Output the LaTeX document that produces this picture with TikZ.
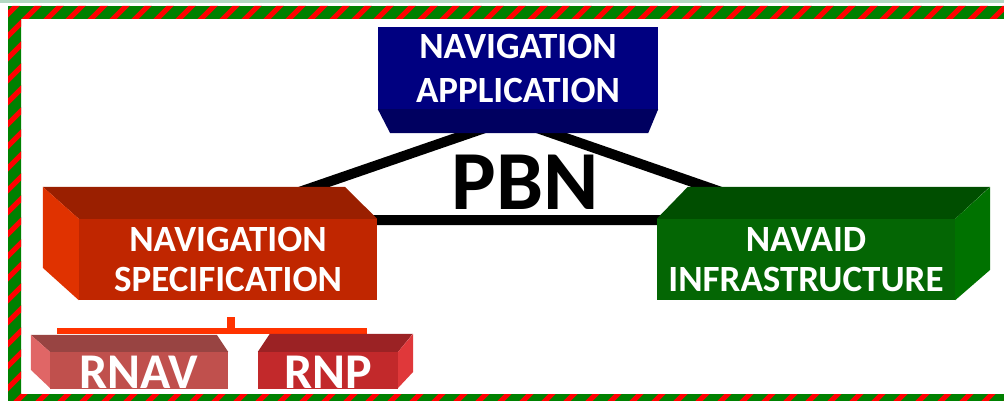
\documentclass[tikz,border=0pt]{standalone}
\usepackage{fontspec}
\setmainfont{Carlito}
\usepackage{tikz}
\definecolor{appblue}{RGB}{0, 0, 128}
\definecolor{appdark}{RGB}{0, 0, 96}
\definecolor{specfront}{RGB}{192, 38, 0}
\definecolor{spectop}{RGB}{154, 31, 0}
\definecolor{specside}{RGB}{224, 50, 0}
\definecolor{navfront}{RGB}{4, 102, 4}
\definecolor{navtop}{RGB}{0, 78, 0}
\definecolor{navside}{RGB}{0, 114, 0}
\definecolor{rnavfront}{RGB}{192, 80, 77}
\definecolor{rnavtop}{RGB}{152, 68, 66}
\definecolor{rnavside}{RGB}{224, 102, 102}
\definecolor{rnpfront}{RGB}{194, 41, 43}
\definecolor{rnptop}{RGB}{155, 34, 36}
\definecolor{rnpside}{RGB}{224, 56, 58}
\definecolor{bracketred}{RGB}{255, 51, 0}
\definecolor{framegreen}{RGB}{0, 128, 0}
\definecolor{framered}{RGB}{255, 0, 0}
\definecolor{stripgreen}{RGB}{178, 216, 194}

\begin{document}
\begin{tikzpicture}[
    x=1pt, y=-1pt,
    face/.style={rectangle, inner sep=0pt, align=center, text=white, font=\bfseries\fontsize{37}{40}\selectfont},
    appface/.style={face, fill=appblue, minimum width=280pt, minimum height=82pt, font=\bfseries\fontsize{37}{44}\selectfont},
    specface/.style={face, fill=specfront, minimum width=298pt, minimum height=81pt},
    navface/.style={face, fill=navfront, minimum width=298pt, minimum height=81pt},
    smallface/.style={face, minimum height=40pt, font=\bfseries\fontsize{50}{50}\selectfont},
    tri/.style={draw=black, line width=10pt},
    bracket/.style={draw=bracketred, line width=6pt},
    pbnlabel/.style={font=\bfseries\fontsize{84}{84}\selectfont, text=black, inner sep=0pt}
]
\useasboundingbox (0,0) rectangle (1004,401);
\fill[stripgreen] (0,0) rectangle (1004,3);

% triangle behind the boxes
\coordinate (apex) at (511,119);
\coordinate (tleft) at (218,220);
\coordinate (tright) at (802,220);
\draw[tri] (tleft) -- (apex) -- (tright) -- cycle;

\node[appface] (app) at (518,68) {NAVIGATION\\APPLICATION};
\fill[appdark] (app.south west) -- (app.south east) -- ++(-10,24) -- ++(-258,0) -- cycle;

\node[specface] (spec) at (228,259.5) {NAVIGATION\\SPECIFICATION};
\fill[spectop] (spec.north west) -- ++(-36,-32) -- ++(302,0) -- (spec.north east) -- cycle;
\fill[specside] (spec.north west) -- ++(-36,-32) -- ++(0,81) -- (spec.south west) -- cycle;

\node[navface] (navaid) at (806,259.5) {NAVAID\\INFRASTRUCTURE};
\fill[navtop] (navaid.north west) -- ++(31,-32) -- ++(302,0) -- (navaid.north east) -- cycle;
\fill[navside] (navaid.north east) -- ++(35,-32) -- ++(0,83) -- (navaid.south east) -- cycle;

\node[pbnlabel] (pbn) at (525,182) {PBN};

% bracket under the specification
\coordinate (brleft) at (57,331);
\coordinate (brright) at (367,331);
\coordinate (brtop) at (231,317);
\coordinate (brmid) at (231,331);
\draw[bracket] (brleft) -- (brright);
\draw[bracketred, line width=8pt] (brtop) -- (brmid);

\begin{scope}
\clip (0,300) rectangle (1004,388);
\node[smallface, fill=rnavfront, minimum width=178pt] (rnav) at (139,372) {RNAV};
\fill[rnavtop] (rnav.north west) -- ++(-19,-17) -- ++(186,0) -- (rnav.north east) -- cycle;
\fill[rnavside] (rnav.north west) -- ++(-19,-17) -- ++(0,35) -- ++(19,18) -- cycle;

\node[smallface, fill=rnpfront, minimum width=140pt] (rnp) at (328,372) {RNP};
\fill[rnptop] (rnp.north west) -- ++(12,-18) -- ++(143,0) -- (rnp.north east) -- cycle;
\fill[rnpside] (rnp.north east) -- ++(15,-18) -- ++(0,38) -- ++(-15,16) -- cycle;
\end{scope}

% striped frame
\begin{scope}[even odd rule]
\clip (8,6) rectangle (1004,401) (21,19) rectangle (1004,394);
\fill[framegreen] (8,6) rectangle (1004,401);
\foreach \k in {0,...,68}
    \draw[framered, line width=5pt] (\k*22-420,420) -- ++(440,-440);
\end{scope}

\end{tikzpicture}
\end{document}
